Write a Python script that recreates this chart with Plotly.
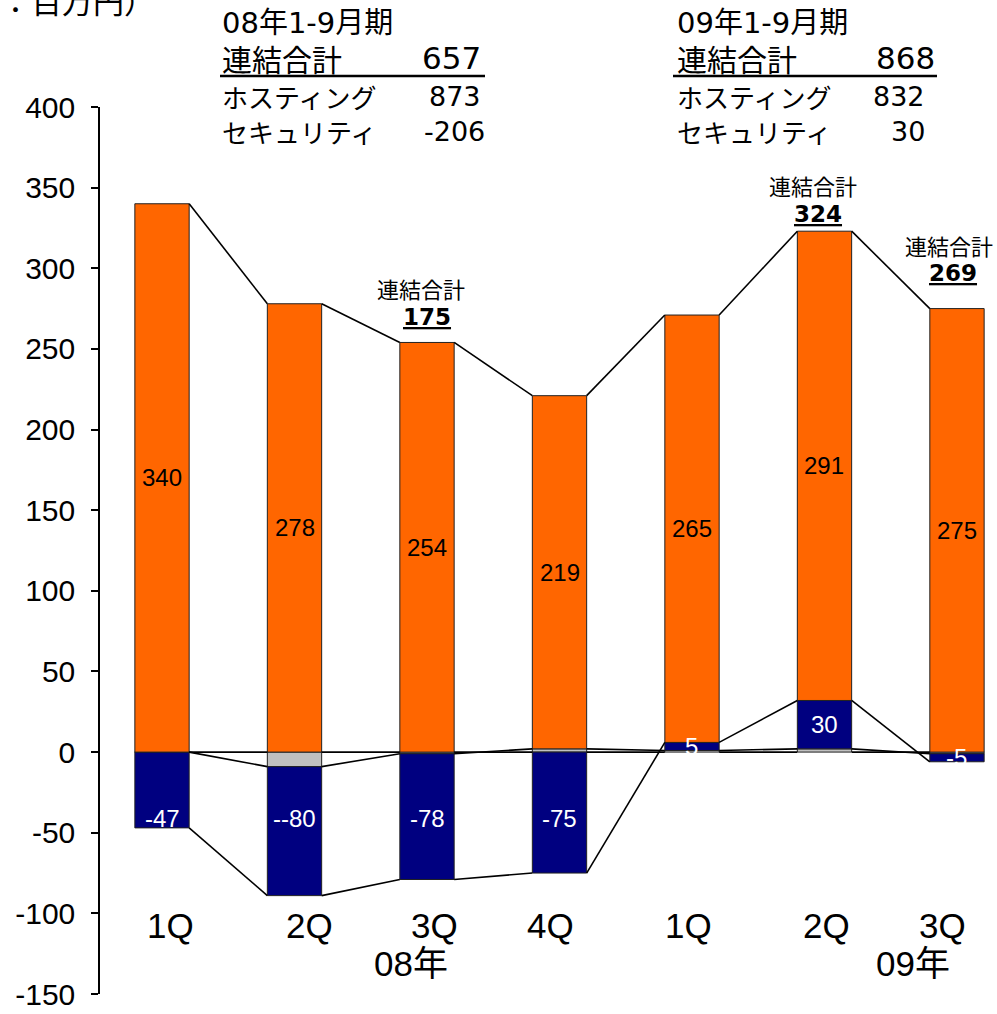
import plotly.graph_objects as go

# ---------------- data ----------------
quarters = ["1Q", "2Q", "3Q", "4Q", "1Q", "2Q", "3Q"]
years = ["08年", "09年"]
hosting = [340, 278, 254, 219, 265, 291, 275]
security = [-47, -80, -78, -75, 5, 30, -5]
other = [0, -9, -1, 2, 1, 2, -1]
hosting_labels = ["340", "278", "254", "219", "265", "291", "275"]
security_labels = ["-47", "--80", "-78", "-75", "5", "30", "-5"]
total_values = ["175", "324", "269"]
periods = ["08年1-9月期", "09年1-9月期"]
summary_labels = ["連結合計", "ホスティング", "セキュリティ"]
summary_08 = ["657", "873", "-206"]
summary_09 = ["868", "832", "30"]
unit_label = "（単位：百万円）"
y_ticks = [-150, -100, -50, 0, 50, 100, 150, 200, 250, 300, 350, 400]
y_tick_text = ["-150", "-100", "-50", "0", "50", "100", "150", "200", "250", "300", "350", "400"]

# ---------------- geometry / style ----------------
W, H = 997, 1014
L, R, T, B = 100, 997, 107, 994
XR = [-0.468, 6.302]
YR = [-150, 400]
BAR_W = 0.41
ORANGE = "#FF6600"
NAVY = "#000080"
GREY = "#C0C0C0"
JP = "Noto Sans CJK JP"
HDR = "DejaVu Sans, Noto Sans CJK JP"
NUM = "Liberation Sans, Arial, Noto Sans CJK JP"

n = len(hosting)
xs = list(range(n))


def pxx(p):
    return (p - L) / (R - L)


def pxy(p):
    return (B - p) / (B - T)


# stacking (relative: positives and negatives stack separately)
pos = [0.0] * n
neg = [0.0] * n
starts, ends = [], []
for s in [other, security, hosting]:
    st, en = [], []
    for i, v in enumerate(s):
        if v >= 0:
            st.append(pos[i]); pos[i] += v; en.append(pos[i])
        else:
            st.append(neg[i]); neg[i] += v; en.append(neg[i])
    starts.append(st)
    ends.append(en)

fig = go.Figure()
for vals, col, name in [(other, GREY, "その他"), (security, NAVY, "セキュリティ"), (hosting, ORANGE, "ホスティング")]:
    fig.add_trace(go.Bar(x=xs, y=vals, width=BAR_W, marker=dict(color=col, line=dict(color="#222222", width=1)),
                         name=name, showlegend=False, hoverinfo="y"))


def series_line(e):
    lx, ly = [], []
    for i in range(n - 1):
        lx += [i + BAR_W / 2, i + 1 - BAR_W / 2, None]
        ly += [e[i], e[i + 1], None]
    return lx, ly


for e in [[0] * n, ends[0], ends[1], ends[2]]:
    lx, ly = series_line(e)
    fig.add_trace(go.Scatter(x=lx, y=ly, mode="lines", line=dict(color="black", width=1.6),
                             showlegend=False, hoverinfo="skip"))

ann = []


def ptext(text, x, y, size, family=JP, xanchor="center", yanchor="middle", color="black"):
    ann.append(dict(x=pxx(x), y=pxy(y), xref="paper", yref="paper", text=text, showarrow=False,
                    xanchor=xanchor, yanchor=yanchor, font=dict(family=family, size=size, color=color)))


# bar value labels
for i in range(n):
    hc = (starts[2][i] + ends[2][i]) / 2
    ann.append(dict(x=i, y=hc, xref="x", yref="y", text=hosting_labels[i], showarrow=False,
                    xanchor="center", yanchor="middle",
                    font=dict(family=NUM, size=24, color="black")))
    if security[i] < 0 and i < 4:
        sy = -41
    else:
        sy = (starts[1][i] + ends[1][i]) / 2
    ann.append(dict(x=i, y=sy, xref="x", yref="y", text=security_labels[i], showarrow=False,
                    xanchor="center", yanchor="middle",
                    font=dict(family=NUM, size=24, color="white")))

# total labels above bars
total_label_pos = [(421, 288, 427, 317), (813, 185, 818, 214), (949, 245, 953, 273)]
for (a, b, c, d), v in zip(total_label_pos, total_values):
    ptext("連結合計", a, b, 22)
    ptext("<u><b>" + v + "</b></u>", c, d, 23, family=HDR)

# quarter / year labels
q_px = [170, 309, 434, 550, 688, 826, 942]
for q, p in zip(quarters, q_px):
    ptext(q, p, 925, 35, family=NUM)
for yl, p in zip(years, [411, 963]):
    pass
for yl, p in zip(years, [411, 913]):
    ptext(yl, p, 963, 35, family=NUM)

# unit label (cut off at top)
ptext(unit_label, 157, 0, 31, xanchor="right")

# summary blocks
row_y = [58, 96, 131]
row_size = [30, 26, 26]
blocks = [(220, periods[0], summary_08, [483, 483, 487], (220, 485)),
          (675, periods[1], summary_09, [937, 927, 927], (673, 937))]
for left, per, vals, rights, ul in blocks:
    ptext(per, left, 23, 29, family=HDR, xanchor="left")
    for lab, v, ry, rs, rr in zip(summary_labels, vals, row_y, row_size, rights):
        ptext(lab, left, ry, rs, xanchor="left")
        ptext(v, rr, ry, rs + 1, family=HDR, xanchor="right")

shapes = []
for left, per, vals, rights, ul in blocks:
    shapes.append(dict(type="line", xref="paper", yref="paper", x0=pxx(ul[0]), x1=pxx(ul[1]),
                       y0=pxy(76), y1=pxy(76), line=dict(color="black", width=2.5)))

fig.update_layout(
    width=W, height=H,
    margin=dict(l=L, r=W - R, t=T, b=H - B, pad=0),
    barmode="relative",
    plot_bgcolor="white", paper_bgcolor="white",
    annotations=ann, shapes=shapes,
    xaxis=dict(range=XR, visible=False, fixedrange=True),
    yaxis=dict(range=YR, tickvals=y_ticks, ticktext=y_tick_text, showgrid=False, zeroline=False,
               showline=True, linecolor="black", linewidth=1.5, ticks="outside", ticklen=7,
               tickwidth=1.5, tickcolor="black", ticklabelstandoff=10,
               tickfont=dict(family=NUM, size=30, color="black")),
    font=dict(family=JP),
)

fig.write_html("out.html", config={"displayModeBar": False},
               post_script="document.body.style.margin='0';document.body.style.overflow='hidden';")
